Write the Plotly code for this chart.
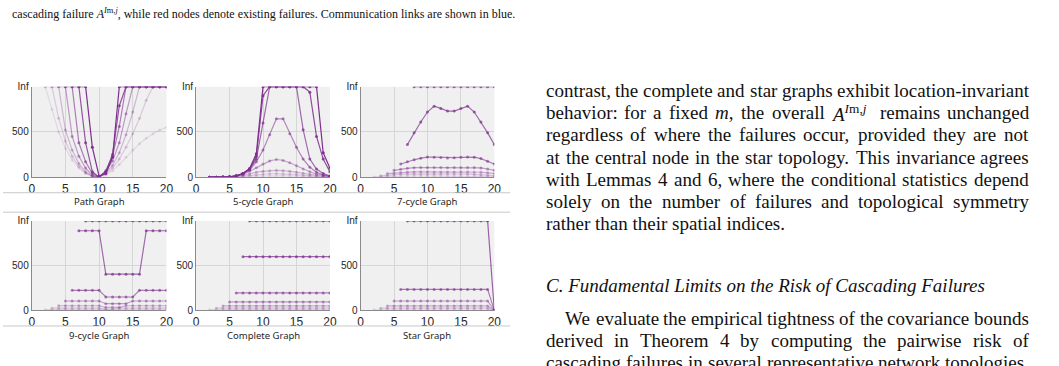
import plotly.graph_objects as go

INF = float("inf")
W, H = 1059, 366
INF_LEVEL = 1000  # vertical position used for the "Inf" level

# ---------------- data ----------------
x_tick_vals = [0, 5, 10, 15, 20]
y_tick_vals = [0, 500, 1000]
y_tick_text = ["0", "500", "Inf"]

panel_titles = ["Path Graph", "5-cycle Graph", "7-cycle Graph",
                "9-cycle Graph", "Complete Graph", "Star Graph"]

# Path graph
path_starts = [2, 2, 3, 4, 5, 6, 7]
path_values = [
    [INF, 750, 500, 320, 190, 100, 40, 10, 3, 25, 70, 140, 220, 300, 370, 430, 480, 520, 550],
    [INF, INF, 650, 400, 230, 120, 45, 10, 5, 35, 100, 200, 330, 480, 650, 850, INF, INF, INF],
    [INF, INF, 520, 300, 150, 60, 10, 5, 45, 130, 270, 470, 720, INF, INF, INF, INF, INF],
    [INF, INF, 450, 230, 100, 20, 5, 60, 180, 380, 700, INF, INF, INF, INF, INF, INF],
    [INF, INF, 380, 170, 40, 5, 70, 230, 560, INF, INF, INF, INF, INF, INF, INF],
    [INF, INF, 380, 60, 0, 60, 250, 790, INF, INF, INF, INF, INF, INF, INF],
    [INF, INF, 330, 10, 40, 220, INF, INF, INF, INF, INF, INF, INF, INF],
]
path_alpha = [0.12, 0.2, 0.3, 0.45, 0.6, 0.8, 1.0]

# 5-cycle graph
c5_starts = [2, 2, 2, 2, 2, 2, 2, 2]
c5_values = [
    [0, 0, 0, 1, 3, 6, 9, 12, 15, 17, 18, 17, 15, 12, 9, 6, 4, 2, 1],
    [0, 0, 1, 2, 6, 12, 20, 28, 34, 38, 40, 38, 34, 28, 21, 15, 9, 5, 2],
    [0, 0, 1, 2, 8, 20, 38, 55, 65, 72, 75, 72, 65, 55, 42, 30, 20, 12, 5],
    [0, 0, 1, 3, 12, 30, 65, 105, 145, 180, 195, 185, 160, 125, 90, 60, 35, 20, 8],
    [0, 0, 1, 3, 12, 35, 80, 170, 300, 470, 645, 645, 480, 330, 200, 110, 55, 25, 10],
    [0, 0, 1, 4, 15, 40, 90, 200, 600, INF, INF, INF, INF, INF, 525, 200, 90, 40, 14],
    [0, 0, 1, 4, 15, 40, 90, 230, 900, INF, INF, INF, INF, INF, INF, 940, 450, 200, 60],
    [0, 0, 1, 4, 15, 40, 95, 260, INF, INF, INF, INF, INF, INF, INF, INF, INF, 270, 100],
]
c5_alpha = [0.12, 0.2, 0.3, 0.4, 0.55, 0.7, 0.85, 1.0]

# 7-cycle graph
c7_starts = [2, 3, 4, 5, 6, 7, 8]
c7_values = [
    [3, 6, 9, 11, 12, 13, 13, 13, 13, 13, 13, 13, 13, 13, 12, 11, 9, 6, 3],
    [15, 22, 28, 32, 34, 35, 35, 35, 34, 34, 35, 35, 35, 34, 32, 28, 22, 15],
    [40, 46, 52, 56, 58, 59, 59, 58, 57, 57, 58, 59, 59, 58, 54, 48, 40],
    [75, 88, 98, 105, 108, 108, 107, 106, 105, 106, 107, 108, 108, 102, 90, 75],
    [145, 170, 192, 210, 222, 221, 218, 213, 215, 219, 222, 221, 205, 175, 145],
    [360, 490, 610, 720, 785, 760, 730, 730, 760, 785, 720, 610, 490, 360],
    [INF, INF, INF, INF, INF, INF, INF, INF, INF, INF, INF, INF, INF],
]
c7_alpha = [0.15, 0.25, 0.35, 0.45, 0.6, 0.7, 0.75]

# 9-cycle graph
c9_starts = [2, 3, 4, 5, 6, 7, 8]
c9_values = [
    [8, 8, 8, 8, 8, 8, 8, 8, 8, 5, 8, 8, 8, 8, 8, 8, 8, 8, 8],
    [25, 25, 25, 25, 25, 25, 25, 25, 15, 15, 25, 25, 25, 25, 25, 25, 25, 25],
    [52, 52, 52, 52, 52, 52, 52, 35, 35, 35, 52, 52, 52, 52, 52, 52, 52],
    [105, 105, 105, 105, 105, 105, 75, 75, 75, 75, 105, 105, 105, 105, 105, 105],
    [225, 225, 225, 225, 225, 150, 150, 150, 150, 150, 225, 225, 225, 225, 225],
    [890, 890, 890, 890, 405, 405, 405, 405, 405, 405, 890, 890, 890, 890],
    [INF, INF, INF, INF, INF, INF, INF, INF, INF, INF, INF, INF, INF],
]
c9_alpha = [0.15, 0.25, 0.35, 0.45, 0.6, 0.7, 0.75]

# Complete graph
kn_starts = [2, 3, 4, 5, 6, 7, 8]
kn_values = [
    [8, 8, 8, 8, 8, 8, 8, 8, 8, 8, 8, 8, 8, 8, 8, 8, 8, 8, 8],
    [25, 25, 25, 25, 25, 25, 25, 25, 25, 25, 25, 25, 25, 25, 25, 25, 25, 25],
    [50, 50, 50, 50, 50, 50, 50, 50, 50, 50, 50, 50, 50, 50, 50, 50, 50],
    [95, 95, 95, 95, 95, 95, 95, 95, 95, 95, 95, 95, 95, 95, 95, 95],
    [195, 195, 195, 195, 195, 195, 195, 195, 195, 195, 195, 195, 195, 195, 195],
    [600, 600, 600, 600, 600, 600, 600, 600, 600, 600, 600, 600, 600, 600],
    [INF, INF, INF, INF, INF, INF, INF, INF, INF, INF, INF, INF, INF],
]
kn_alpha = [0.15, 0.25, 0.35, 0.45, 0.6, 0.7, 0.75]

# Star graph
st_starts = [2, 3, 4, 5, 6, 7]
st_values = [
    [7, 7, 7, 7, 7, 7, 7, 7, 7, 7, 7, 7, 7, 7, 7, 7, 7, 7, 0],
    [25, 25, 25, 25, 25, 25, 25, 25, 25, 25, 25, 25, 25, 25, 25, 25, 25, 0],
    [50, 50, 50, 50, 50, 50, 50, 50, 50, 50, 50, 50, 50, 50, 50, 50, 0],
    [105, 105, 105, 105, 105, 105, 105, 105, 105, 105, 105, 105, 105, 105, 105, 0],
    [235, 235, 235, 235, 235, 235, 235, 235, 235, 235, 235, 235, 235, 235, 0],
    [INF, INF, INF, INF, INF, INF, INF, INF, INF, INF, INF, INF, INF, 0],
]
st_alpha = [0.15, 0.25, 0.35, 0.45, 0.6, 0.75]

# ---------------- text ----------------
caption_text = ("cascading failure <i>A</i><sup><i>I</i>m,<i>j</i></sup>, while red nodes denote "
                "existing failures. Communication links are shown in blue.")

body_lines = [
    ("contrast, the complete and star graphs exhibit location-invariant", True, False),
    ("behavior: for a fixed <i>m</i>, the overall @A@ remains unchanged", True, False),
    ("regardless of where the failures occur, provided they are not", True, False),
    ("at the central node in the star topology. This invariance agrees", True, False),
    ("with Lemmas 4 and 6, where the conditional statistics depend", True, False),
    ("solely on the number of failures and topological symmetry", True, False),
    ("rather than their spatial indices.", False, False),
]
heading_text = "C. Fundamental Limits on the Risk of Cascading Failures"
para2_lines = [
    ("We evaluate the empirical tightness of the covariance bounds", True, True),
    ("derived in Theorem 4 by computing the pairwise risk of", True, False),
    ("cascading failures in several representative network topologies.", True, False),
]

# ---------------- layout helpers ----------------
PURPLE = (126, 47, 142)
BG = "#f0f0f0"

col_px = [(29, 165), (195, 330), (361, 496)]
row_px = [(84, 177), (222, 314)]
title_y_px = [202, 340]


def px_x(x):
    return x / W


def px_y(y):
    return 1 - y / H


fig = go.Figure()

panels = [
    (path_starts, path_values, path_alpha),
    (c5_starts, c5_values, c5_alpha),
    (c7_starts, c7_values, c7_alpha),
    (c9_starts, c9_values, c9_alpha),
    (kn_starts, kn_values, kn_alpha),
    (st_starts, st_values, st_alpha),
]

for i, (starts, values, alphas) in enumerate(panels):
    r, c = divmod(i, 3)
    xa = "x" if i == 0 else f"x{i+1}"
    ya = "y" if i == 0 else f"y{i+1}"
    for s, vals, a in zip(starts, values, alphas):
        xs = list(range(s, s + len(vals)))
        ys = [INF_LEVEL if v == INF else v for v in vals]
        col = f"rgba({PURPLE[0]},{PURPLE[1]},{PURPLE[2]},{a})"
        fig.add_trace(go.Scatter(
            x=xs, y=ys, mode="lines+markers", xaxis=xa, yaxis=ya,
            line=dict(color=col, width=1.2),
            marker=dict(color=col, size=3),
            showlegend=False, hoverinfo="skip"))
    x0, x1 = col_px[c]
    y0, y1 = row_px[r]
    key = "" if i == 0 else str(i + 1)
    fig.layout[f"xaxis{key}"] = dict(
        domain=[px_x(x0), px_x(x1)], anchor=ya, range=[0, 20],
        tickvals=x_tick_vals, ticks="", showgrid=True, gridcolor="#d6d6d6",
        gridwidth=1, zeroline=False, showline=True, linecolor="#8a8a8a",
        linewidth=1, tickfont=dict(family="Liberation Sans", size=12, color="#262626"),
        fixedrange=True)
    fig.layout[f"yaxis{key}"] = dict(
        domain=[px_y(y1), px_y(y0)], anchor=xa, range=[0, INF_LEVEL],
        tickvals=y_tick_vals, ticktext=y_tick_text, ticks="", showgrid=True,
        gridcolor="#d6d6d6", gridwidth=1, zeroline=False, showline=True,
        linecolor="#8a8a8a", linewidth=1,
        tickfont=dict(family="Liberation Sans", size=10, color="#262626"),
        fixedrange=True)
    fig.add_annotation(
        x=px_x((x0 + x1) / 2), y=px_y(title_y_px[r]), xref="paper", yref="paper",
        text=panel_titles[i], showarrow=False, xanchor="center", yanchor="middle",
        font=dict(family="Noto Sans", size=9.5, color="#262626"))

# separator rules of the sub-figure captions
for ypx in [193, 213, 330]:
    fig.add_shape(type="line", xref="paper", yref="paper",
                  x0=0, x1=px_x(512), y0=px_y(ypx), y1=px_y(ypx),
                  line=dict(color="#c8c8c8", width=1))

# ---------------- text rendering (justified) ----------------
TIMES_W = {' ': 250, ',': 250, '.': 250, ':': 278, ';': 278, '-': 333, '(': 333, ')': 333,
           '0': 500, '1': 500, '2': 500, '3': 500, '4': 500, '5': 500, '6': 500, '7': 500,
           '8': 500, '9': 500,
           'A': 722, 'B': 667, 'C': 667, 'D': 722, 'E': 611, 'F': 556, 'G': 722, 'H': 722,
           'I': 333, 'J': 389, 'K': 722, 'L': 611, 'M': 889, 'N': 722, 'O': 722, 'P': 556,
           'Q': 722, 'R': 667, 'S': 556, 'T': 611, 'U': 722, 'V': 722, 'W': 944, 'X': 722,
           'Y': 722, 'Z': 611,
           'a': 444, 'b': 500, 'c': 444, 'd': 500, 'e': 444, 'f': 333, 'g': 500, 'h': 500,
           'i': 278, 'j': 278, 'k': 500, 'l': 278, 'm': 778, 'n': 500, 'o': 500, 'p': 500,
           'q': 500, 'r': 333, 's': 389, 't': 278, 'u': 500, 'v': 500, 'w': 722, 'x': 500,
           'y': 500, 'z': 444}

BODY_FONT = 19
TEXT_X0, TEXT_X1 = 546, 1033
LINE_GAP = 22.8
BODY_Y0 = 88
MATH_A = "<i>A</i><sup><i>I</i>m,<i>j</i></sup>"


def word_w(wd, size):
    if wd == "@A@":
        return 2.2 * size
    plain = wd.replace("<i>", "").replace("</i>", "")
    return sum(TIMES_W.get(ch, 500) for ch in plain) / 1000 * size


def put_line(text, ypx, justify, indent, size, italic=False):
    x0 = TEXT_X0 + (size if indent else 0)
    words = text.split(" ")
    family = "Liberation Serif"
    if justify and len(words) > 1:
        ws = [word_w(w, size) for w in words]
        gap = (TEXT_X1 - x0 - sum(ws)) / (len(words) - 1)
        x = x0
        for w, ww in zip(words, ws):
            t = MATH_A if w == "@A@" else w
            fig.add_annotation(x=px_x(x), y=px_y(ypx), xref="paper", yref="paper",
                               text=t, showarrow=False, xanchor="left", yanchor="middle",
                               font=dict(family=family, size=size, color="#111111"))
            x += ww + gap
    else:
        t = f"<i>{text}</i>" if italic else text
        fig.add_annotation(x=px_x(x0), y=px_y(ypx), xref="paper", yref="paper",
                           text=t, showarrow=False, xanchor="left", yanchor="middle",
                           font=dict(family=family, size=size, color="#111111"))


for k, (t, j, ind) in enumerate(body_lines):
    put_line(t, BODY_Y0 + k * LINE_GAP, j, ind, BODY_FONT)
put_line(heading_text, 288, False, False, BODY_FONT, italic=True)
for k, (t, j, ind) in enumerate(para2_lines):
    put_line(t, 322 + k * LINE_GAP, j, ind, BODY_FONT)

fig.add_annotation(x=px_x(7), y=px_y(9), xref="paper", yref="paper",
                   text=caption_text, showarrow=False, xanchor="left", yanchor="middle",
                   font=dict(family="Liberation Serif", size=12, color="#111111"))

fig.update_layout(width=W, height=H, margin=dict(l=0, r=0, t=0, b=0),
                  plot_bgcolor=BG, paper_bgcolor="white", showlegend=False)

fig.write_html("out.html")
